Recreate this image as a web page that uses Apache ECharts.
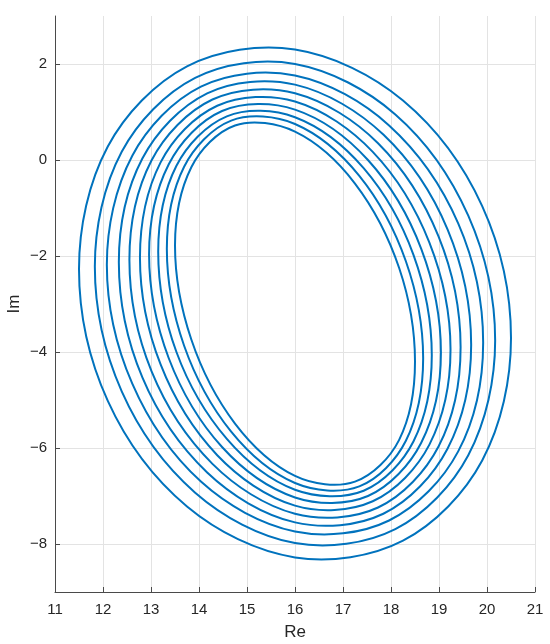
<!DOCTYPE html>
<html>
<head>
<meta charset="utf-8">
<script src="https://cdn.jsdelivr.net/npm/echarts@6/dist/echarts.min.js"></script>
<style>
    html, body { margin: 0; padding: 0; background: #fff; }
    #main { width: 550px; height: 644px; }
</style>
</head>
<body>
<div id="main"></div>
<script>
// axis ranges and tick labels
var reTicks = [11, 12, 13, 14, 15, 16, 17, 18, 19, 20, 21];
var imTicks = [-8, -6, -4, -2, 0, 2];

// rings, outer -> inner, [Re, Im] every 30 deg
var ring1 = [[20.50, -3.71], [19.90, -0.96], [18.25, 1.24], [16.00, 2.30], [13.75, 1.95], [12.10, 0.28],
             [11.50, -2.27], [12.10, -5.02], [13.75, -7.22], [16.00, -8.28], [18.25, -7.93], [19.90, -6.26]];
var ring2 = [[20.17, -3.76], [19.61, -1.16], [18.09, 0.95], [16.00, 2.00], [13.92, 1.71], [12.39, 0.17],
             [11.83, -2.22], [12.39, -4.82], [13.92, -6.93], [16.00, -7.98], [18.09, -7.69], [19.61, -6.15]];
var ring3 = [[19.92, -3.80], [19.40, -1.32], [17.96, 0.72], [16.00, 1.76], [14.04, 1.53], [12.61, 0.09],
             [12.08, -2.18], [12.61, -4.66], [14.04, -6.70], [16.00, -7.74], [17.96, -7.51], [19.40, -6.07]];
var ring4 = [[19.67, -3.85], [19.18, -1.45], [17.84, 0.53], [16.00, 1.57], [14.17, 1.39], [12.82, 0.03],
             [12.33, -2.13], [12.82, -4.53], [14.17, -6.51], [16.00, -7.55], [17.84, -7.37], [19.18, -6.01]];
var ring5 = [[19.45, -3.90], [18.99, -1.59], [17.73, 0.35], [16.00, 1.39], [14.28, 1.26], [13.01, -0.01],
             [12.55, -2.08], [13.01, -4.40], [14.28, -6.33], [16.00, -7.37], [17.73, -7.24], [18.99, -5.97]];
var ring6 = [[19.24, -3.95], [18.80, -1.72], [17.62, 0.17], [16.00, 1.22], [14.38, 1.13], [13.20, -0.05],
             [12.77, -2.03], [13.20, -4.26], [14.38, -6.15], [16.00, -7.20], [17.62, -7.11], [18.80, -5.93]];
var ring7 = [[19.04, -4.01], [18.63, -1.85], [17.52, 0.00], [16.00, 1.05], [14.48, 1.02], [13.37, -0.09],
             [12.96, -1.97], [13.37, -4.13], [14.48, -5.98], [16.00, -7.03], [17.52, -7.00], [18.63, -5.89]];
var ring8 = [[18.85, -4.07], [18.47, -1.98], [17.43, -0.17], [16.00, 0.89], [14.58, 0.91], [13.53, -0.12],
             [13.15, -1.91], [13.53, -4.00], [14.58, -5.81], [16.00, -6.87], [17.43, -6.89], [18.47, -5.86]];
var ring9 = [[18.67, -4.13], [18.31, -2.11], [17.34, -0.33], [16.00, 0.75], [14.67, 0.82], [13.69, -0.14],
             [13.33, -1.85], [13.69, -3.87], [14.67, -5.66], [16.00, -6.73], [17.34, -6.80], [18.31, -5.85]];
var ring10 = [[18.50, -4.20], [18.17, -2.25], [17.25, -0.49], [16.00, 0.59], [14.75, 0.72], [13.84, -0.15],
              [13.50, -1.78], [13.84, -3.74], [14.75, -5.49], [16.00, -6.58], [17.25, -6.70], [18.17, -5.83]];

var ringList = [ring1, ring2, ring3, ring4, ring5, ring6, ring7, ring8, ring9, ring10];

var RingChart = {
    textColor: '#262626',
    gridColor: '#e3e3e3',
    axisColor: '#4a4a4a',
    lineColor: '#0072BD',
    font: 'Liberation Sans, Arial, sans-serif',
    //MATLAB style minus sign
    fmt: function (v) {
        return String(v).replace('-', '\u2212');
    },
    init: function () {
        var self = RingChart;
        var option = {
            animation: false,
            backgroundColor: '#ffffff',
            grid: {
                left: 55,
                right: 15,
                top: 16,
                bottom: 52,
                containLabel: false,
                outerBoundsMode: 'none'
            },
            xAxis: {
                type: 'value',
                min: reTicks[0],
                max: reTicks[reTicks.length - 1],
                interval: 1,
                name: 'Re',
                nameLocation: 'middle',
                nameGap: 32,
                nameTextStyle: {
                    color: self.textColor,
                    fontSize: 17,
                    fontFamily: self.font
                },
                axisLine: {
                    show: true,
                    onZero: false,
                    lineStyle: {color: self.axisColor, width: 1}
                },
                axisTick: {
                    show: true,
                    inside: true,
                    length: 5,
                    lineStyle: {color: self.axisColor}
                },
                axisLabel: {
                    color: self.textColor,
                    fontSize: 15,
                    margin: 10,
                    fontFamily: self.font,
                    formatter: self.fmt
                },
                splitLine: {
                    show: true,
                    lineStyle: {color: self.gridColor, width: 1}
                }
            },
            yAxis: {
                type: 'value',
                min: -9,
                max: 3,
                name: 'Im',
                nameLocation: 'middle',
                nameGap: 32,
                nameMoveOverlap: false,
                nameTextStyle: {
                    color: self.textColor,
                    fontSize: 17,
                    fontFamily: self.font
                },
                axisLine: {
                    show: true,
                    onZero: false,
                    lineStyle: {color: self.axisColor, width: 1}
                },
                axisTick: {
                    show: true,
                    inside: true,
                    length: 5,
                    customValues: imTicks,
                    lineStyle: {color: self.axisColor}
                },
                axisLabel: {
                    color: self.textColor,
                    fontSize: 15,
                    margin: 8,
                    customValues: imTicks,
                    fontFamily: self.font,
                    formatter: self.fmt
                },
                splitLine: {
                    show: true,
                    lineStyle: {color: self.gridColor, width: 1}
                }
            },
            series: [{
                type: 'custom',
                coordinateSystem: 'cartesian2d',
                silent: true,
                encode: {x: 0, y: 1},
                data: ringList.map(function (r, i) {
                    return [r[0][0], r[0][1], i];
                }),
                renderItem: function (params, api) {
                    var pts = ringList[params.dataIndex].map(function (p) {
                        return api.coord(p);
                    });
                    return {
                        type: 'polygon',
                        shape: {points: pts, smooth: 0.34},
                        style: {fill: 'none', stroke: self.lineColor, lineWidth: 2}
                    };
                }
            }]
        };

        var chart = echarts.init(document.getElementById('main'));
        chart.setOption(option);
        return chart;
    }
};

RingChart.init();
</script>
</body>
</html>
